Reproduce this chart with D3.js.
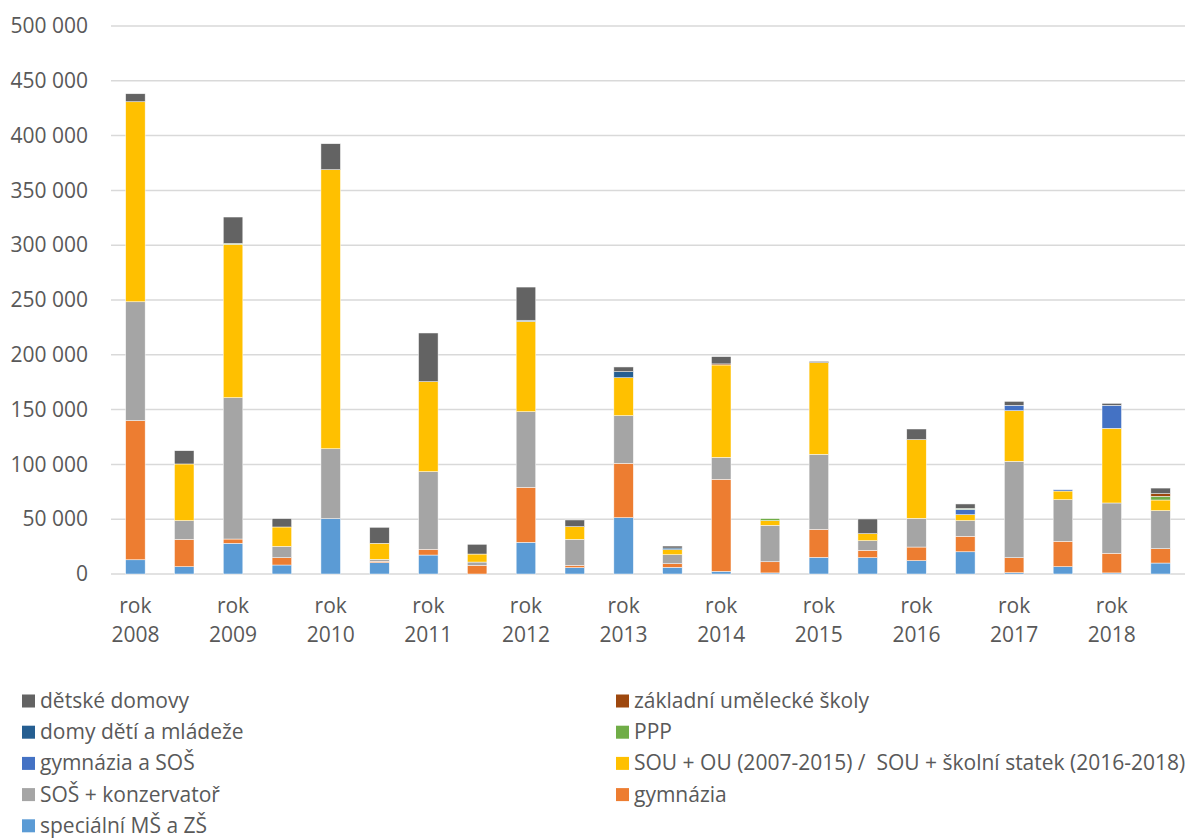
<!DOCTYPE html>
<html>
<head>
<meta charset="utf-8">
<script src="https://cdn.jsdelivr.net/npm/d3@7"></script>
<style>
  body { margin: 0; background: #fff; }
  text { font-family: "Open Sans", sans-serif; fill: #595959; }
</style>
</head>
<body>
<div id="chart"></div>
<script>
// two bars per year, only the first of each pair gets a label
var categories = ["rok 2008", "", "rok 2009", "", "rok 2010", "", "rok 2011", "", "rok 2012", "",
    "rok 2013", "", "rok 2014", "", "rok 2015", "", "rok 2016", "", "rok 2017", "", "rok 2018", ""];

var seriesNames = ["speciální MŠ a ZŠ", "gymnázia", "SOŠ + konzervatoř",
    "SOU + OU (2007-2015) /  SOU + školní statek (2016-2018)", "gymnázia a SOŠ", "PPP",
    "domy dětí a mládeže", "základní umělecké školy", "dětské domovy"];

var specialni = [13000, 6700, 28000, 8200, 50500, 10300, 17300, 0, 28900, 5800, 51400, 6100, 2400, 1000, 15200, 14900, 12200, 20300, 1200, 6700, 1000, 10000];
var gymnazia = [127000, 24900, 3900, 6700, 0, 1300, 5200, 7900, 50200, 2100, 49600, 3300, 84000, 10200, 25500, 6700, 12400, 14100, 13700, 23100, 17900, 13100];
var sos = [108400, 17100, 129000, 10300, 63800, 1800, 70900, 3000, 69000, 23700, 43500, 8200, 20000, 33200, 68500, 8800, 26200, 14300, 87900, 38000, 45900, 34700];
var sou = [182500, 51700, 139900, 17700, 254600, 14600, 82100, 7300, 82400, 11600, 34600, 4600, 84300, 4300, 83600, 6400, 71800, 5400, 46200, 7900, 68100, 9700];
var gymSos = [0, 0, 0, 0, 0, 0, 0, 0, 0, 0, 0, 0, 0, 0, 0, 0, 0, 4900, 4900, 1200, 21000, 0];
var ppp = [0, 0, 800, 0, 0, 0, 0, 0, 0, 0, 0, 0, 0, 1800, 0, 0, 0, 800, 0, 0, 0, 3400];
var domyDeti = [0, 0, 0, 0, 0, 0, 0, 0, 1000, 0, 5500, 1500, 0, 0, 0, 0, 0, 0, 0, 0, 0, 0];
var zus = [0, 0, 0, 0, 0, 0, 0, 0, 0, 0, 0, 0, 1000, 0, 0, 0, 0, 0, 0, 0, 0, 2400];
var detskeDomovy = [7300, 12100, 24100, 7600, 23700, 14600, 44400, 8900, 30300, 6100, 4300, 1800, 6600, 0, 1200, 13400, 9700, 4100, 3600, 0, 1800, 5100];

var yTicks = [0, 50000, 100000, 150000, 200000, 250000, 300000, 350000, 400000, 450000, 500000];

var seriesValues = [specialni, gymnazia, sos, sou, gymSos, ppp, domyDeti, zus, detskeDomovy];
var colors = ["#5B9BD5", "#ED7D31", "#A5A5A5", "#FFC000", "#4472C4", "#70AD47", "#255E91", "#9E480E", "#636363"];

var width = 1195, height = 839;

// build rows for d3.stack
var rows = categories.map(function (c, i) {
    var row = { idx: i, label: c };
    seriesNames.forEach(function (s, j) { row[s] = seriesValues[j][i]; });
    return row;
});

var stack = d3.stack().keys(seriesNames);
var layers = stack(rows);

var svg = d3.select('#chart')
  .append('svg')
  .attr('width', width)
  .attr('height', height);

var x = d3.scaleBand()
  .domain(d3.range(categories.length))
  .range([111, 1185])
  .paddingInner(0.6)
  .paddingOuter(0.3);

var y = d3.scaleLinear()
  .domain([0, 500000])
  .range([574, 26]);

var cz = d3.formatLocale({ decimal: ",", thousands: " ", grouping: [3], currency: ["", " Kč"] });
var fmt = cz.format(",d");

// gridlines
svg.append('g')
  .selectAll('line')
  .data(yTicks)
  .enter()
  .append('line')
  .attr('x1', 111)
  .attr('x2', 1185)
  .attr('y1', function (d) { return y(d); })
  .attr('y2', function (d) { return y(d); })
  .attr('stroke', '#D9D9D9')
  .attr('stroke-width', 1.5);

// y axis labels (axis used for tick text only)
var yAxis = svg.append('g')
  .attr('transform', 'translate(96,0)')
  .call(d3.axisLeft(y).tickValues(yTicks).tickFormat(fmt).tickSize(0).tickPadding(8));
yAxis.select('.domain').remove();
yAxis.selectAll('text')
  .attr('font-size', 21)
  .attr('font-family', '"Open Sans", sans-serif')
  .attr('fill', '#595959');

// bars
svg.append('g')
  .selectAll('g')
  .data(layers)
  .enter()
  .append('g')
  .attr('fill', function (d, i) { return colors[i]; })
  .selectAll('rect')
  .data(function (d) { return d; })
  .enter()
  .append('rect')
  .attr('x', function (d) { return x(d.data.idx); })
  .attr('width', x.bandwidth())
  .attr('y', function (d) { return y(d[1]); })
  .attr('height', function (d) { return y(d[0]) - y(d[1]); })
  .attr('stroke', '#fff')
  .attr('stroke-width', 0.6)
  .attr('stroke-opacity', function (d) { return d[1] - d[0] > 0 ? 0.8 : 0; });

// category labels, two lines
var labels = svg.append('g')
  .selectAll('text')
  .data(rows.filter(function (r) { return r.label !== ""; }))
  .enter()
  .append('text')
  .attr('text-anchor', 'middle')
  .attr('font-size', 21)
  .attr('x', function (d) { return x(d.idx) + x.bandwidth() / 2; });

labels.append('tspan')
  .attr('x', function (d) { return x(d.idx) + x.bandwidth() / 2; })
  .attr('y', 613)
  .text(function (d) { return d.label.split(' ')[0]; });
labels.append('tspan')
  .attr('x', function (d) { return x(d.idx) + x.bandwidth() / 2; })
  .attr('y', 642)
  .text(function (d) { return d.label.split(' ')[1]; });

// legend: reversed series order, two columns
var legendItems = seriesNames.map(function (s, i) { return { name: s, color: colors[i] }; }).reverse();
var legendRectSize = 13;
var colX = [22, 616];

var legend = svg.selectAll('.legend')
  .data(legendItems)
  .enter()
  .append('g')
  .attr('class', 'legend')
  .attr('transform', function (d, i) {
      var horz = colX[i % 2];
      var vert = 701 + Math.floor(i / 2) * 31.2;
      return 'translate(' + horz + ',' + vert + ')';
  });

legend.append('rect')
  .attr('y', -legendRectSize / 2)
  .attr('width', legendRectSize)
  .attr('height', legendRectSize)
  .style('fill', function (d) { return d.color; });

legend.append('text')
  .attr('x', legendRectSize + 5)
  .attr('y', 7)
  .attr('font-size', 21)
  .style('white-space', 'pre')
  .text(function (d) { return d.name; });
</script>
</body>
</html>
